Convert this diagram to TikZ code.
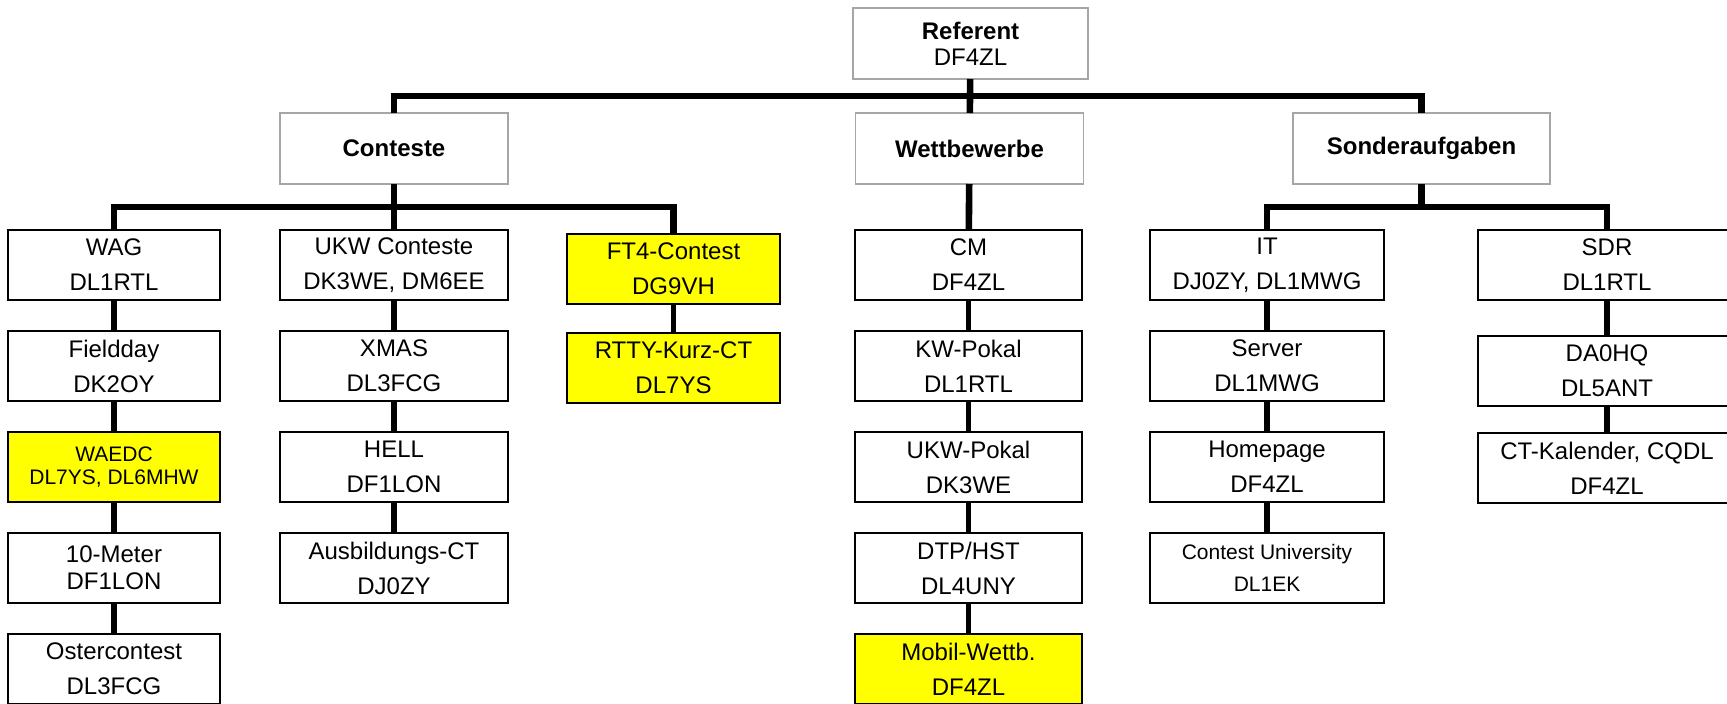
\documentclass[tikz,border=0pt]{standalone}
\usepackage{fontspec}
\setmainfont{Liberation Sans}
\usetikzlibrary{positioning}
\definecolor{headgray}{HTML}{A6A6A6}
\definecolor{marker}{HTML}{FFFF00}

\begin{document}
\begin{tikzpicture}[
    x=0.5pt, y=-0.5pt,
    node distance=15.5pt,
    box/.style={rectangle, draw, line width=1pt, fill=white, inner sep=0pt, outer sep=0pt,
        minimum height=35pt, align=center, font=\fontsize{12}{17.5}\selectfont},
    head/.style={box, draw=headgray, line width=0.9pt, minimum height=35.5pt},
    hot/.style={box, fill=marker},
    cola/.style={minimum width=106pt},
    colb/.style={minimum width=114pt},
    colc/.style={minimum width=106.5pt},
    cold/.style={minimum width=113.5pt},
    cole/.style={minimum width=117pt},
    colf/.style={minimum width=129pt},
    bar/.style={line width=3.3pt, line join=miter},
    link/.style={line width=2.8pt}
]
\useasboundingbox (0,0) rectangle (1727,703);
\clip (0,0) rectangle (1727,703);
\fill[white] (0,0) rectangle (1727,703);

% Referent
\node[head, minimum width=117.5pt, font=\fontsize{12}{13}\selectfont] (ref) at (970.5,43.5) {\textbf{Referent}\\DF4ZL};

% Bereiche
\node[head, minimum width=114pt] (con) at (394,148.5) {\textbf{Conteste}};
\node[head, minimum width=114pt] (wet) at (969.5,148.5) {\textbf{Wettbewerbe}};
\node[head, minimum width=128.5pt] (son) at (1421.5,148.5) {\textbf{Sonderaufgaben}};

% Conteste
\node[box, cola] (wag) at (114,265) {WAG\\DL1RTL};
\node[box, cola, below=of wag] (field) {Fieldday\\DK2OY};
\node[hot, cola, below=of field, font=\fontsize{10.5}{11.75}\selectfont] (waedc) {WAEDC\\DL7YS, DL6MHW};
\node[box, cola, below=of waedc, font=\fontsize{12}{13.5}\selectfont] (zehn) {10-Meter\\DF1LON};
\node[box, cola, below=of zehn] (oster) {Ostercontest\\DL3FCG};

\node[box, colb] (ukw) at (394,265) {UKW Conteste\\DK3WE, DM6EE};
\node[box, colb, below=of ukw] (xmas) {XMAS\\DL3FCG};
\node[box, colb, below=of xmas] (hell) {HELL\\DF1LON};
\node[box, colb, below=of hell] (ausb) {Ausbildungs-CT\\DJ0ZY};

\node[hot, colc] (ft4) at (673.5,268.5) {FT4-Contest\\DG9VH};
\node[hot, colc, below=14.5pt of ft4] (rtty) {RTTY-Kurz-CT\\DL7YS};

% Wettbewerbe
\node[box, cold] (cm) at (968.5,265) {CM\\DF4ZL};
\node[box, cold, below=of cm] (kw) {KW-Pokal\\DL1RTL};
\node[box, cold, below=of kw] (ukwp) {UKW-Pokal\\DK3WE};
\node[box, cold, below=of ukwp] (dtp) {DTP/HST\\DL4UNY};
\node[hot, cold, below=of dtp] (mobil) {Mobil-Wettb.\\DF4ZL};

% Sonderaufgaben
\node[box, cole] (it) at (1267,265) {IT\\DJ0ZY, DL1MWG};
\node[box, cole, below=of it] (server) {Server\\DL1MWG};
\node[box, cole, below=of server] (home) {Homepage\\DF4ZL};
\node[box, cole, below=of home, font=\fontsize{10.5}{16}\selectfont] (cu) {Contest University\\DL1EK};

\node[box, colf] (sdr) at (1607,265) {SDR\\DL1RTL};
\node[box, colf, below=18pt of sdr] (dahq) {DA0HQ\\DL5ANT};
\node[box, colf, below=13.5pt of dahq] (ctk) {CT-Kalender, CQDL\\DF4ZL};

% Balken
\coordinate (topbar) at (970,96);
\draw[bar] (con.north) |- (topbar) -| (son.north);
\draw[bar] (ref) -- (wet);

\coordinate (conbar) at (394,207);
\draw[bar] (wag.north) |- (conbar) -| (ft4.north);
\draw[bar] (con) -- (ukw);

\draw[bar] (wet) -- (cm);

\coordinate (sonbar) at (1421.5,207);
\draw[bar] (it.north) |- (sonbar) -| (sdr.north);
\draw[bar] (son) -- (sonbar);

% Ketten
\draw[link] (wag) -- (field);
\draw[link] (field) -- (waedc);
\draw[link] (waedc) -- (zehn);
\draw[link] (zehn) -- (oster);
\draw[link] (ukw) -- (xmas);
\draw[link] (xmas) -- (hell);
\draw[link] (hell) -- (ausb);
\draw[link] (ft4) -- (rtty);
\draw[link] (cm) -- (kw);
\draw[link] (kw) -- (ukwp);
\draw[link] (ukwp) -- (dtp);
\draw[link] (dtp) -- (mobil);
\draw[link] (it) -- (server);
\draw[link] (server) -- (home);
\draw[link] (home) -- (cu);
\draw[link] (sdr) -- (dahq);
\draw[link] (dahq) -- (ctk);

\end{tikzpicture}
\end{document}
